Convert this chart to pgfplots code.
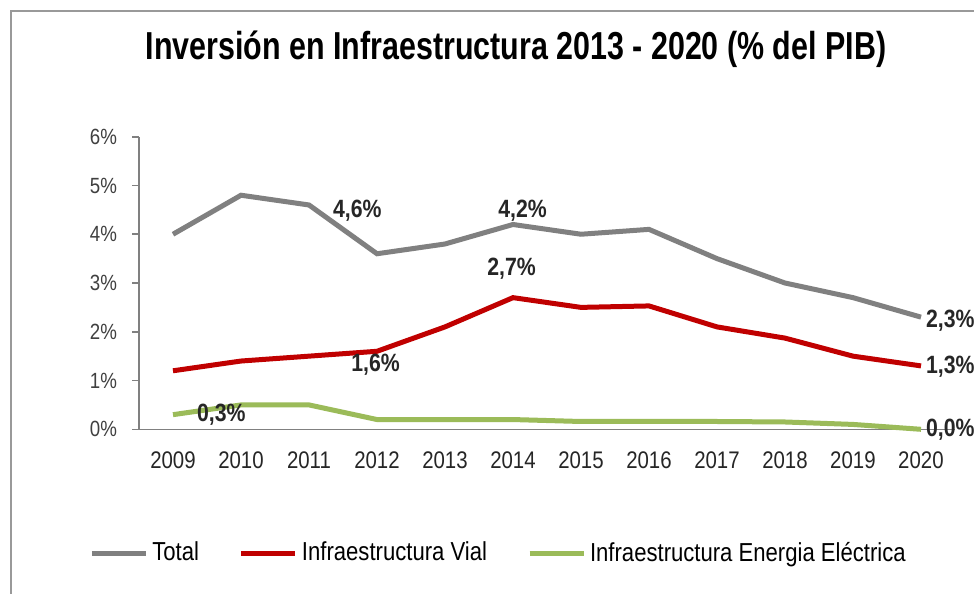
\documentclass[border=0pt]{standalone}
\usepackage{fontspec}
\setmainfont{Liberation Sans}[FakeStretch=0.85]
\newfontfamily\titlefont{Liberation Sans}[FakeStretch=0.78]
\usepackage{pgfplots}
\pgfplotsset{compat=1.18}
\definecolor{cTot}{RGB}{128,128,128}
\definecolor{cVial}{RGB}{192,0,0}
\definecolor{cEne}{RGB}{155,187,89}
\begin{document}
\begin{tikzpicture}
\useasboundingbox (0pt,0pt) rectangle (487pt,297pt);
\fill[white] (0pt,0pt) rectangle (487pt,297pt);
\draw[black!40, line width=0.8pt] (5.5pt,-2pt) -- (5.5pt,291.5pt) -- (490pt,291.5pt);
\node[anchor=base, font=\titlefont\bfseries\fontsize{19.5}{22}\selectfont] at (258pt,267pt) {Inversión en Infraestructura 2013 - 2020 (\% del PIB)};
\begin{axis}[
  at={(69.5pt,82.35pt)}, anchor=south west,
  scale only axis, width=408pt, height=146.3pt,
  xmin=2008.5, xmax=2020.5, ymin=0, ymax=6,
  axis x line*=bottom, axis y line*=left,
  axis line style={cTot, line width=0.8pt},
  xtick={2009,...,2020}, ytick={0,...,6},
  /pgf/number format/assume math mode=true,
  xticklabel style={/pgf/number format/1000 sep={}, font=\fontsize{12}{14}\selectfont, text=black!85, yshift=-4pt},
  yticklabel={\pgfmathprintnumber{\tick}\%},
  yticklabel style={font=\fontsize{11}{13}\selectfont, text=black!75, xshift=-4pt},
  major x tick style={draw=none},
  major y tick style={cTot, line width=0.8pt},
  tick align=outside, major tick length=3.5pt,
  clip=false,
  legend style={at={(0.4418,-0.4228)}, anchor=center, draw=none, fill=none,
    legend columns=3, font=\fontsize{13}{15}\selectfont,
    /tikz/every even column/.append style={column sep=18pt}},
  legend image code/.code={\draw[#1, line width=2.5pt] (0pt,0pt) -- (27pt,0pt);},
  legend cell align=left,
]
\addplot[cTot, line width=2.5pt] coordinates {
(2009,4.0) (2010,4.8) (2011,4.6) (2012,3.6) (2013,3.8) (2014,4.2)
(2015,4.0) (2016,4.1) (2017,3.5) (2018,3.0) (2019,2.7) (2020,2.3)};
\addlegendentry{Total}
\addplot[cVial, line width=2.5pt] coordinates {
(2009,1.2) (2010,1.4) (2011,1.5) (2012,1.6) (2013,2.1) (2014,2.7)
(2015,2.5) (2016,2.53) (2017,2.1) (2018,1.87) (2019,1.5) (2020,1.3)};
\addlegendentry{Infraestructura Vial}
\addplot[cEne, line width=2.5pt] coordinates {
(2009,0.3) (2010,0.5) (2011,0.5) (2012,0.2) (2013,0.2) (2014,0.2)
(2015,0.16) (2016,0.16) (2017,0.16) (2018,0.15) (2019,0.1) (2020,0.0)};
\addlegendentry{Infraestructura Energia Eléctrica}
\begin{scope}[every node/.style={font=\bfseries\fontsize{12.5}{14}\selectfont, text=black!85}]
\node at (axis cs:2011.71,4.49) {4,6\%};
\node at (axis cs:2014.14,4.48) {4,2\%};
\node at (axis cs:2013.98,3.30) {2,7\%};
\node at (axis cs:2011.98,1.32) {1,6\%};
\node at (axis cs:2009.71,0.29) {0,3\%};
\node at (axis cs:2020.43,2.23) {2,3\%};
\node at (axis cs:2020.43,1.28) {1,3\%};
\node at (axis cs:2020.43,-0.01) {0,0\%};
\end{scope}
\end{axis}
\end{tikzpicture}
\end{document}
